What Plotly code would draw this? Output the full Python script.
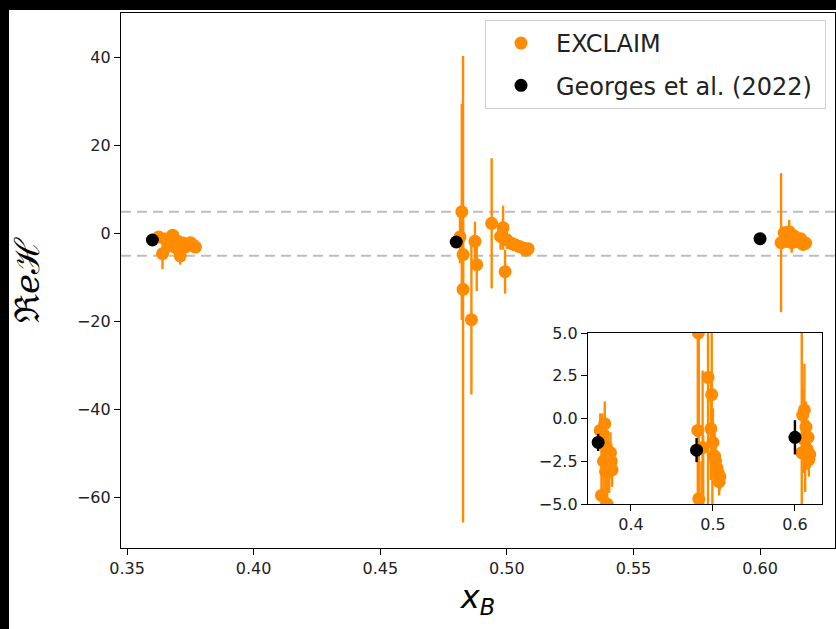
import plotly.graph_objects as go

# ---------------- data ----------------
excl_x = [0.3625, 0.3640, 0.3650, 0.3665, 0.3680, 0.3690, 0.3700, 0.3710, 0.3720, 0.3735, 0.3750, 0.3760, 0.3770,
          0.4815, 0.4822, 0.4827, 0.4827, 0.4860, 0.4874, 0.4881, 0.4940, 0.4975, 0.4985, 0.4993, 0.5000, 0.5020,
          0.5032, 0.5050, 0.5064, 0.5075, 0.5084,
          0.6083, 0.6095, 0.6105, 0.6115, 0.6125, 0.6135, 0.6150, 0.6160, 0.6170, 0.6180]
excl_y = [-0.7, -4.5, -1.2, -2.5, -0.3, -3.1, -1.7, -5.0, -2.1, -2.85, -2.0, -2.5, -3.0,
          -0.7, 5.0, -12.6, -4.7, -19.5, -1.7, -7.0, 2.4, -0.6, 1.4, -8.6, -1.4, -2.2,
          -2.5, -2.9, -3.2, -3.7, -3.4,
          -2.0, 0.2, -1.2, 0.5, -2.0, -0.5, -1.8, -1.1, -2.4, -2.1]
excl_err = [1.0, 3.5, 1.5, 1.8, 1.3, 1.6, 1.2, 2.0, 1.4, 1.5, 1.2, 1.0, 1.0,
            6.0, 24.6, 53.0, 8.0, 17.0, 4.5, 6.0, 14.8, 3.0, 5.0, 5.0, 2.0, 1.5,
            1.0, 1.0, 0.8, 0.8, 0.8,
            15.8, 1.5, 2.0, 2.7, 2.3, 1.5, 1.2, 1.0, 1.0, 0.8]

georges_x = [0.36, 0.48, 0.60]
georges_y = [-1.4, -1.85, -1.1]
georges_err = [0.5, 0.7, 1.0]

main_xticks = [0.35, 0.40, 0.45, 0.50, 0.55, 0.60]
main_yticks = [40, 20, 0, -20, -40, -60]
inset_xticks = [0.4, 0.5, 0.6]
inset_yticks = [5.0, 2.5, 0.0, -2.5, -5.0]
band_levels = [5, -5]

ORANGE = "#FF8C00"
FONT = "DejaVu Sans"

fig = go.Figure()

for xa, ya, show in [("x", "y", True), ("x2", "y2", False)]:
    fig.add_trace(go.Scatter(
        x=excl_x, y=excl_y, mode="markers", name="EXCLAIM\u00a0",
        marker=dict(color=ORANGE, size=13),
        error_y=dict(type="data", array=excl_err, color=ORANGE, thickness=2.4, width=0),
        xaxis=xa, yaxis=ya, showlegend=show, legendgroup="a"))
    fig.add_trace(go.Scatter(
        x=georges_x, y=georges_y, mode="markers", name="Georges et al. (2022)\u00a0",
        marker=dict(color="black", size=13),
        error_y=dict(type="data", array=georges_err, color="black", thickness=2.4, width=0),
        xaxis=xa, yaxis=ya, showlegend=show, legendgroup="b"))

for lv in band_levels:
    fig.add_shape(type="line", xref="x domain", yref="y", x0=0, x1=1, y0=lv, y1=lv,
                  line=dict(color="#bdbdbd", width=2, dash="10px,6px"), layer="below")

# black screenshot border (top and left)
W, H = 714, 535
L, T = 121, 13
def px(p):
    return (p - L) / W
def py(p):
    return (T + H - p) / H
fig.add_shape(type="rect", xref="paper", yref="paper", x0=px(0), x1=px(836), y0=py(10), y1=py(0),
              fillcolor="black", line_width=0)
fig.add_shape(type="rect", xref="paper", yref="paper", x0=px(0), x1=px(9), y0=py(629), y1=py(0),
              fillcolor="black", line_width=0)

axis_common = dict(showline=True, mirror=True, linecolor="black", linewidth=1.3,
                   ticks="outside", ticklen=6, tickwidth=1.3, tickcolor="black",
                   showgrid=False, zeroline=False,
                   tickfont=dict(family=FONT, size=16, color="#222222"))

fig.update_layout(
    width=836, height=629,
    margin=dict(l=L, r=836 - L - W, t=T, b=629 - T - H, autoexpand=False),
    paper_bgcolor="white", plot_bgcolor="white",
    xaxis=dict(range=[0.3476, 0.6296], tickvals=main_xticks,
               ticktext=[f"{v:.2f}" for v in main_xticks],
               title=dict(text="<i>x</i><sub><i>B</i></sub>", font=dict(family=FONT, size=32, color="black"),
                          standoff=8),
               **axis_common),
    yaxis=dict(range=[-71.4, 50.2], tickvals=main_yticks,
               title=dict(text="ℜ<i>e</i>ℋ", font=dict(family="DejaVu Serif", size=34, color="black"),
                          standoff=26),
               **axis_common),
    xaxis2=dict(domain=[px(588), px(822)], anchor="y2", range=[0.3476, 0.633],
                tickvals=inset_xticks, ticktext=[f"{v:.1f}" for v in inset_xticks], **axis_common),
    yaxis2=dict(domain=[py(504), py(333)], anchor="x2", range=[-5, 5],
                tickvals=inset_yticks, tickformat=".1f", **axis_common),
    legend=dict(x=px(826), y=py(20), xanchor="right", yanchor="top",
                bgcolor="rgba(255,255,255,0.8)", bordercolor="#d0d0d0", borderwidth=1,
                font=dict(family=FONT, size=24, color="#222222"),
                tracegroupgap=8, itemwidth=60),
    showlegend=True,
)

fig.write_html("out.html", config={"displayModeBar": False},
               post_script="document.body.style.margin='0';document.body.style.overflow='hidden';")
